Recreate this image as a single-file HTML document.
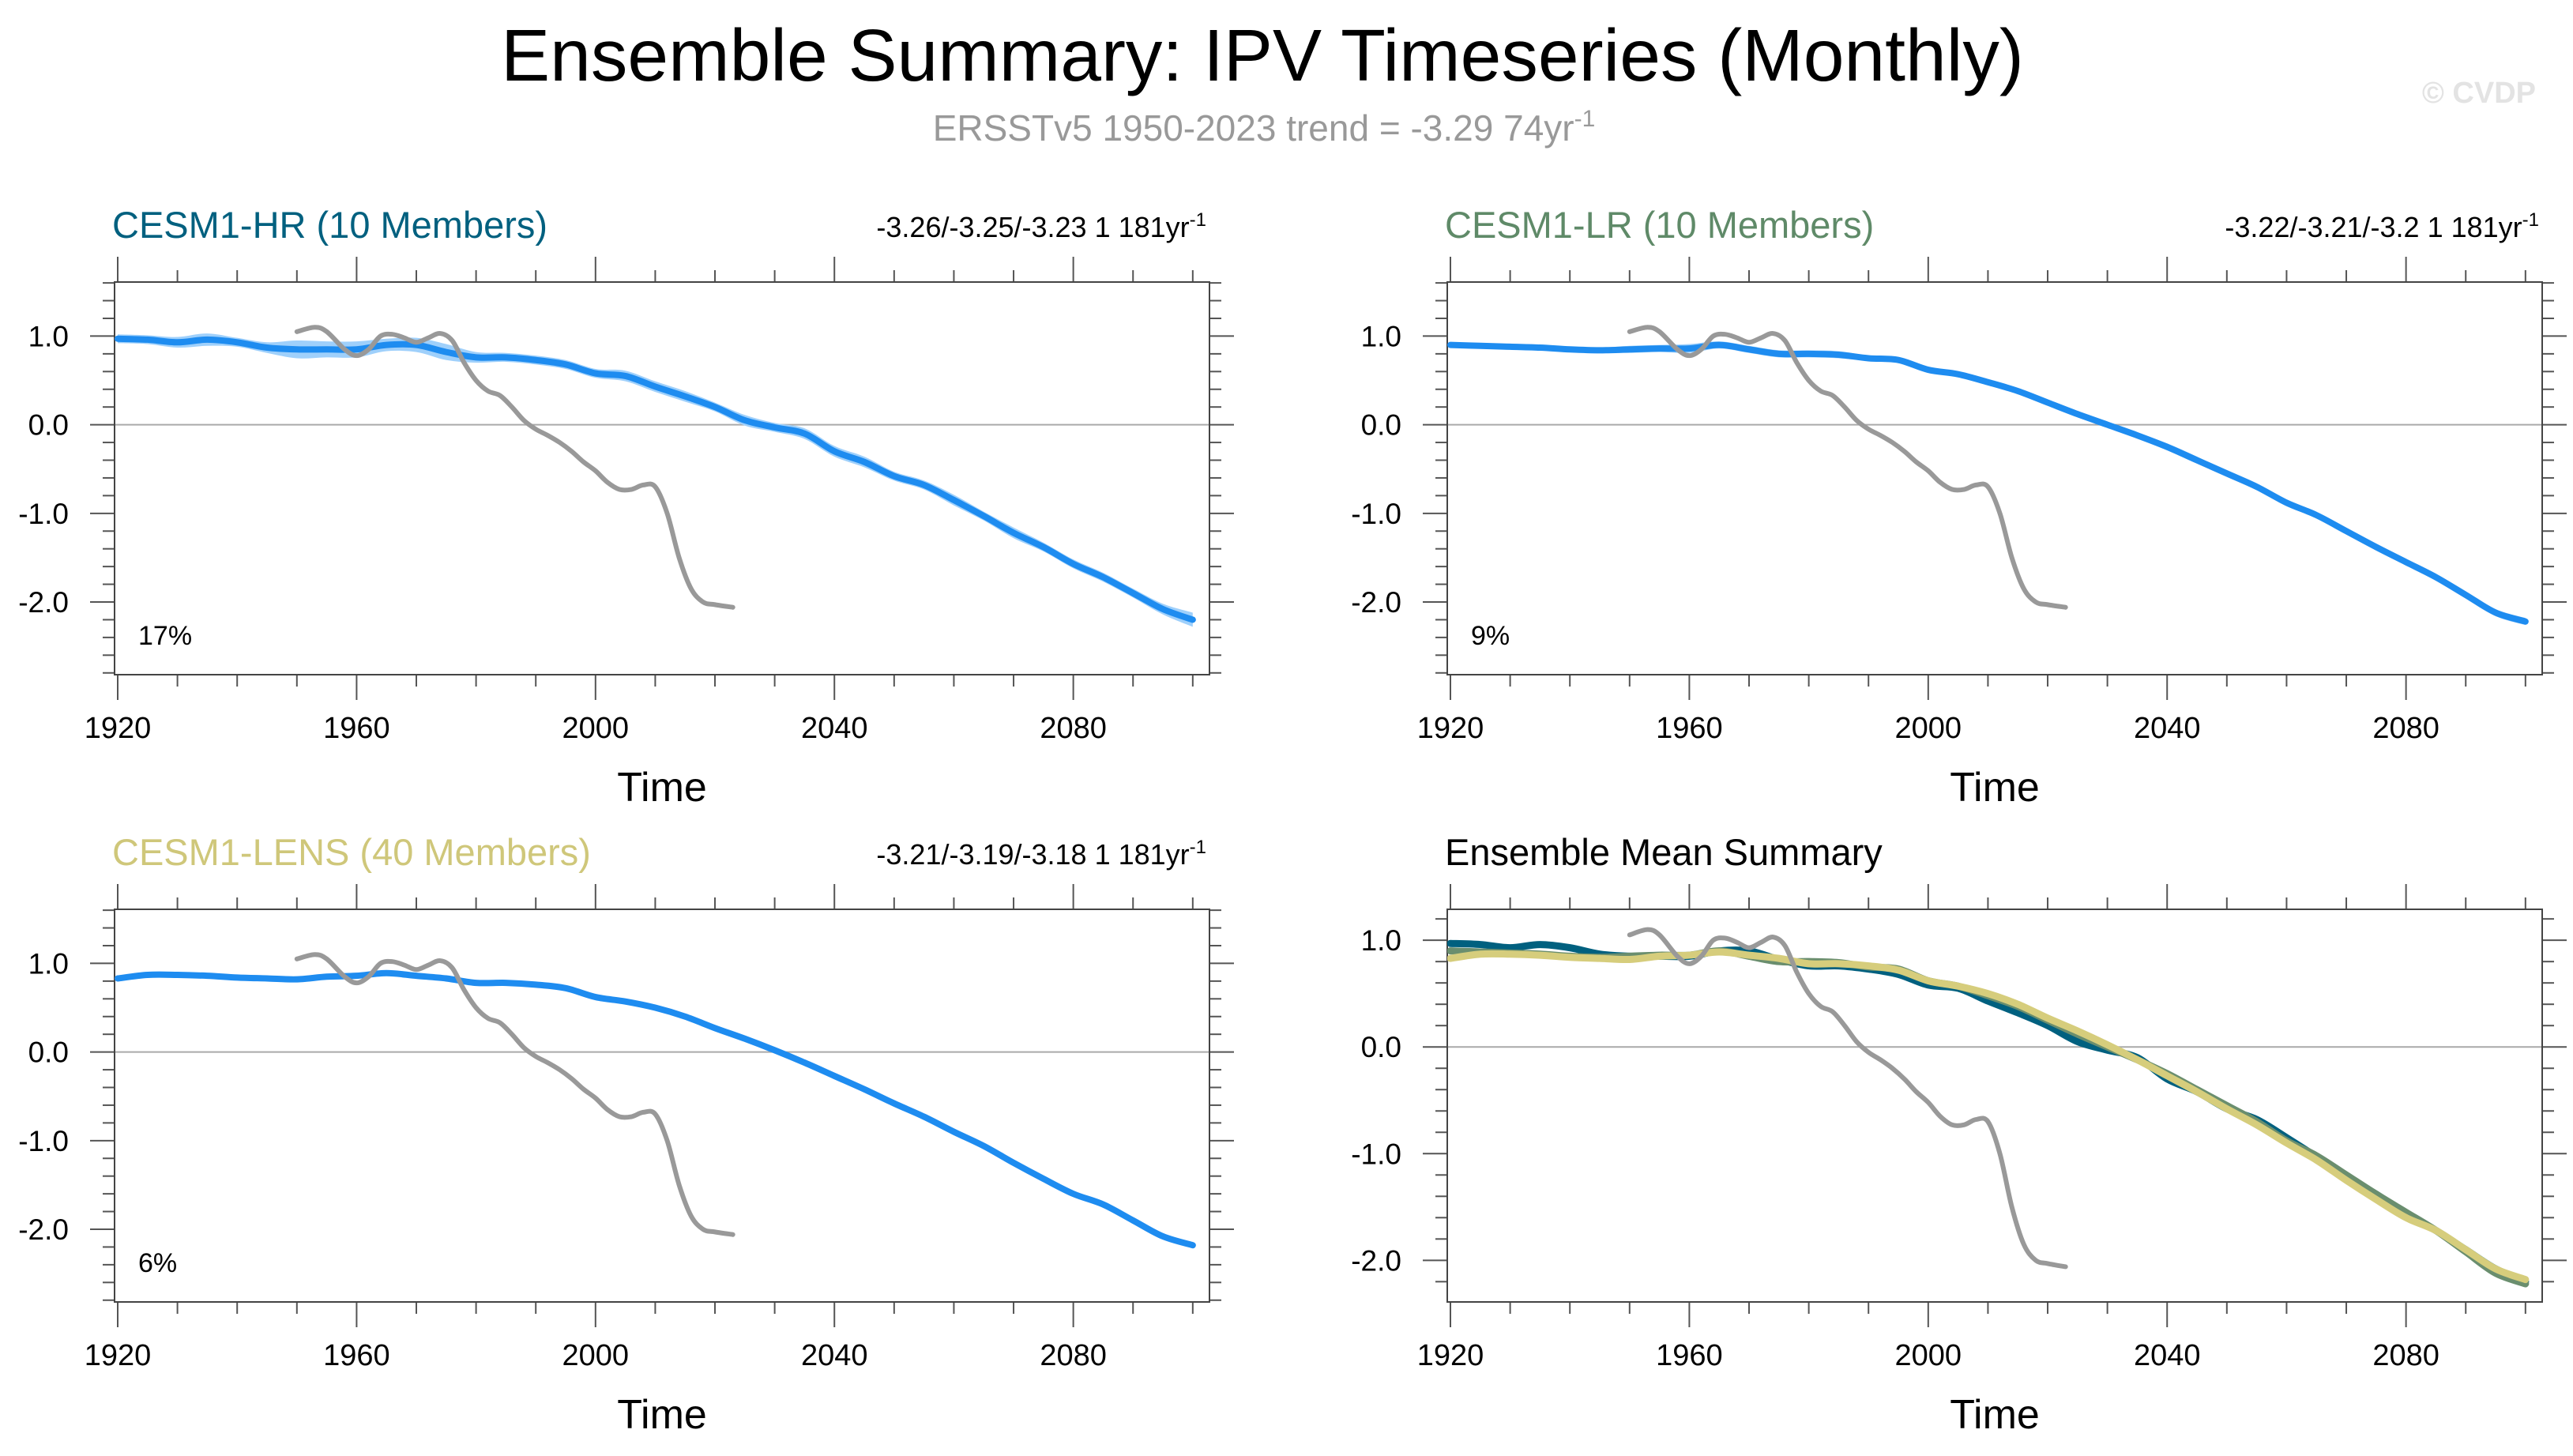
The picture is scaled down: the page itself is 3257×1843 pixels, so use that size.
<!DOCTYPE html>
<html><head><meta charset="utf-8">
<style>
html,body{margin:0;padding:0;background:#fff;}
svg{display:block;font-family:"Liberation Sans",sans-serif;}
</style></head>
<body>
<svg id="chart" width="3257" height="1843" viewBox="0 0 3257 1843" xmlns="http://www.w3.org/2000/svg">
<text x="1598" y="102" font-size="93" text-anchor="middle" fill="#000">Ensemble Summary: IPV Timeseries (Monthly)</text>
<text x="1600" y="178" font-size="46" text-anchor="middle" fill="#999">ERSSTv5 1950-2023 trend = -3.29 74yr<tspan dy="-18" font-size="30">-1</tspan></text>
<text x="3210" y="130" font-size="38" font-weight="bold" text-anchor="end" fill="#e3e3e3">© CVDP</text>
</svg>
<script>
const years = [1920,1925,1930,1935,1940,1945,1950,1955,1960,1965,1970,1975,1980,1985,1990,1995,2000,2005,2010,2015,2020,2025,2030,2035,2040,2045,2050,2055,2060,2065,2070,2075,2080,2085,2090,2095,2100];
const hrMean = [.97,.96,.93,.96,.93,.87,.85,.85,.85,.9,.9,.82,.76,.76,.73,.68,.58,.55,.43,.32,.2,.05,-.03,-.1,-.3,-.42,-.58,-.68,-.85,-1.03,-1.22,-1.38,-1.57,-1.72,-1.9,-2.08,-2.2];
const lrMean = [.9,.89,.88,.87,.85,.84,.85,.86,.86,.9,.85,.8,.8,.79,.75,.73,.62,.57,.48,.38,.25,.12,0,-.12,-.25,-.4,-.55,-.7,-.88,-1.02,-1.2,-1.38,-1.55,-1.72,-1.92,-2.12,-2.22];
const lensMean = [.83,.87,.87,.86,.84,.83,.82,.85,.86,.89,.86,.83,.78,.78,.76,.72,.62,.57,.5,.4,.27,.15,.02,-.12,-.27,-.42,-.58,-.73,-.9,-1.06,-1.25,-1.43,-1.6,-1.72,-1.9,-2.08,-2.18];
const hrSpread = [.05,.05,.06,.07,.05,.06,.1,.09,.09,.07,.08,.09,.06,.05,.05,.05,.05,.06,.06,.06,.05,.06,.05,.06,.06,.06,.05,.05,.06,.05,.06,.05,.05,.05,.05,.06,.08];
const lrSpread = [.03,.03,.03,.03,.03,.03,.04,.04,.05,.04,.04,.04,.04,.04,.03,.03,.03,.03,.03,.03,.03,.03,.03,.03,.04,.04,.03,.03,.03,.03,.03,.03,.03,.03,.03,.04,.04];
const lensSpread = [.03,.03,.03,.03,.03,.03,.03,.03,.03,.03,.03,.03,.03,.03,.03,.03,.03,.03,.03,.03,.03,.03,.03,.03,.03,.03,.03,.03,.03,.03,.03,.03,.03,.03,.03,.03,.03];
const obsYears = [1950,1953,1955,1958,1960,1962,1964,1966,1968,1970,1972,1974,1976,1978,1980,1982,1984,1986,1988,1990,1992,1994,1996,1998,2000,2002,2004,2006,2008,2010,2012,2014,2016,2018,2020,2023];
const obsVals = [1.05,1.1,1.05,.85,.78,.85,1.0,1.02,.98,.93,.98,1.03,.95,.7,.5,.38,.33,.2,.05,-.05,-.12,-.2,-.3,-.42,-.52,-.65,-.73,-.73,-.68,-.7,-1.0,-1.5,-1.85,-2.0,-2.03,-2.06];
const xTicks = [1920,1960,2000,2040,2080];
const yTicks = [1.0,0.0,-1.0,-2.0];
const yTickLabels = ["1.0","0.0","-1.0","-2.0"];

const NS="http://www.w3.org/2000/svg";
const svg=document.getElementById('chart');
function mk(tag,attrs,parent){const e=document.createElementNS(NS,tag);for(const k in attrs)e.setAttribute(k,attrs[k]);(parent||svg).appendChild(e);return e;}
function smooth(pts){let d=`M${pts[0][0]},${pts[0][1]}`;for(let i=0;i<pts.length-1;i++){const p0=pts[Math.max(0,i-1)],p1=pts[i],p2=pts[i+1],p3=pts[Math.min(pts.length-1,i+2)];
const c1=[p1[0]+(p2[0]-p0[0])/6,p1[1]+(p2[1]-p0[1])/6],c2=[p2[0]-(p3[0]-p1[0])/6,p2[1]-(p3[1]-p1[1])/6];d+=` C${c1[0]},${c1[1]} ${c2[0]},${c2[1]} ${p2[0]},${p2[1]}`;}return d;}

function panel(cfg){
  const g=mk('g',{});
  
  
  const L=cfg.x,T=cfg.y,W=1386,H=497;
  const x0=1919.47,x1=2102.8;
  const xs=v=>L+(v-x0)/(x1-x0)*W;
  const ys=v=>T+(cfg.ymax-v)/(cfg.ymax-cfg.ymin)*H;
  for(let yr=1920;yr<=2100;yr+=10){const maj=(yr-1920)%40===0;const len=maj?32:15;
    const t1=mk('line',{x1:xs(yr),x2:xs(yr),y1:T,y2:T-len,stroke:'#555','stroke-width':2},g);
    
    const t2=mk('line',{x1:xs(yr),x2:xs(yr),y1:T+H,y2:T+H+len,stroke:'#555','stroke-width':2},g);
    }
  for(let k=Math.ceil(cfg.ymin*5);k<=Math.floor(cfg.ymax*5);k++){const v=k/5;const maj=k%5===0;const len=maj?31:15;
    const a=mk('line',{x1:L,x2:L-len,y1:ys(v),y2:ys(v),stroke:'#555','stroke-width':2},g);
    
    const b=mk('line',{x1:L+W,x2:L+W+len,y1:ys(v),y2:ys(v),stroke:'#555','stroke-width':2},g);
    }
  const zl=mk('line',{x1:L,x2:L+W,y1:ys(0),y2:ys(0),stroke:'#aaa','stroke-width':2},g);
  
  const box=mk('rect',{x:L,y:T,width:W,height:H,fill:'none',stroke:'#444','stroke-width':2},g);
  
  xTicks.forEach(v=>{const t=mk('text',{x:xs(v),y:T+H+80,'font-size':38,'text-anchor':'middle'},g);t.textContent=v;
    });
  yTicks.forEach((v,i)=>{const t=mk('text',{x:L-58,y:ys(v)+13,'font-size':37,'text-anchor':'end'},g);t.textContent=yTickLabels[i];
    });
  const xt=mk('text',{x:L+W/2,y:T+H+160,'font-size':52,'text-anchor':'middle'},g);xt.textContent='Time';
  
  const tt=mk('text',{x:L-3,y:T-56,'font-size':47,fill:cfg.titleColor},g);tt.textContent=cfg.title;
  
  if(cfg.trend){const tr=mk('text',{x:L+W-4,y:T-57,'font-size':36,'text-anchor':'end'},g);tr.innerHTML=cfg.trend+'<tspan dy="-14" font-size="24">-1</tspan>';
    }
  if(cfg.pct){const p=mk('text',{x:L+30,y:T+H-38,'font-size':34},g);p.textContent=cfg.pct;
    }
  const clip='clip'+cfg.name;const cp=mk('clipPath',{id:clip},g);mk('rect',{x:L,y:T,width:W,height:H},cp);
  const pg=mk('g',{'clip-path':`url(#${clip})`},g);
  cfg.series.forEach(s=>{
    if(s.spread){const up=years.map((y,i)=>[xs(y),ys(s.vals[i]+s.spread[i])]);const lo=years.map((y,i)=>[xs(y),ys(s.vals[i]-s.spread[i])]).reverse();
      const band=mk('path',{d:smooth(up)+' L'+smooth(lo).slice(1)+' Z',fill:'#9fd0fb'},pg);
      }
    const pts=years.map((y,i)=>[xs(y),ys(s.vals[i])]);
    const ln=mk('path',{d:smooth(pts),fill:'none',stroke:s.color,'stroke-width':s.w,'stroke-linecap':'round'},pg);
    
  });
  const op=obsYears.map((y,i)=>[xs(y),ys(obsVals[i])]);
  const ol=mk('path',{d:smooth(op),fill:'none',stroke:'#999','stroke-width':6,'stroke-linecap':'round'},pg);
  
}
const blue='#1e8cf0';
panel({name:'panel-cesm1-hr',x:145,y:357,ymin:-2.82,ymax:1.61,title:'CESM1-HR (10 Members)',titleColor:'#00607f',trend:'-3.26/-3.25/-3.23 1 181yr',pct:'17%',
  series:[{name:'hr-ensemble-mean',vals:hrMean,spread:hrSpread,color:blue,w:8}]});
panel({name:'panel-cesm1-lr',x:1832,y:357,ymin:-2.82,ymax:1.61,title:'CESM1-LR (10 Members)',titleColor:'#5f8a68',trend:'-3.22/-3.21/-3.2 1 181yr',pct:'9%',
  series:[{name:'lr-ensemble-mean',vals:lrMean,spread:lrSpread,color:blue,w:8}]});
panel({name:'panel-cesm1-lens',x:145,y:1151,ymin:-2.82,ymax:1.61,title:'CESM1-LENS (40 Members)',titleColor:'#cfc77a',trend:'-3.21/-3.19/-3.18 1 181yr',pct:'6%',
  series:[{name:'lens-ensemble-mean',vals:lensMean,spread:lensSpread,color:blue,w:8}]});
panel({name:'panel-ensemble-mean-summary',x:1832,y:1151,ymin:-2.39,ymax:1.29,title:'Ensemble Mean Summary',titleColor:'#000',
  series:[{name:'hr-mean-line',vals:hrMean,color:'#00607f',w:9},{name:'lr-mean-line',vals:lrMean,color:'#6a8e6e',w:9},{name:'lens-mean-line',vals:lensMean,color:'#d6cd7c',w:9}]});
</script>
</body></html>
